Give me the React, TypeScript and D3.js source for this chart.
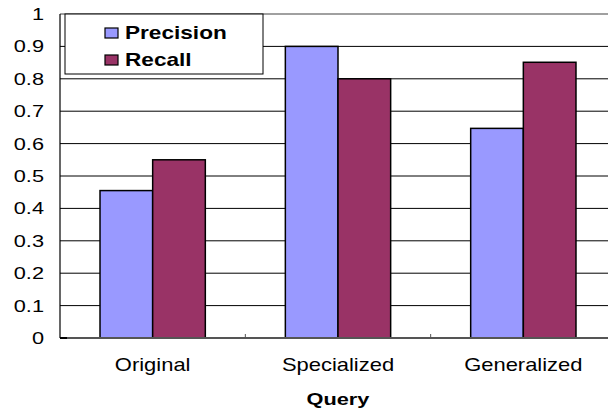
import { scaleBand, scaleLinear, range } from "d3";

const categories = ["Original", "Specialized", "Generalized"];
const series = ["Precision", "Recall"];
const precision = [0.455, 0.9, 0.647];
const recall = [0.55, 0.8, 0.851];
const yTicks = [0, 0.1, 0.2, 0.3, 0.4, 0.5, 0.6, 0.7, 0.8, 0.9, 1];
const xTitle = "Query";

const colors: Record<string, string> = { Precision: "#9999FF", Recall: "#993366" };
const values: Record<string, number[]> = { Precision: precision, Recall: recall };

const W = 608;
const H = 414;
const left = 60;
const right = 616;
const top = 14;
const bottom = 338;
const font = "Arial, 'Liberation Sans', sans-serif";

export default function App() {
  const x = scaleBand<string>().domain(categories).range([left, right]).padding(0);
  const inner = scaleBand<string>()
    .domain(series)
    .range([0, x.bandwidth()])
    .paddingInner(0)
    .paddingOuter(0.76);
  const y = scaleLinear().domain([0, 1]).range([bottom, top]);

  return (
    <svg
      width={W}
      height={H}
      viewBox={`0 0 ${W} ${H}`}
      style={{ position: "absolute", left: 0, top: 0, background: "#fff" }}
    >
      <rect x={0} y={0} width={W} height={H} fill="#fff" />
      {/* grid */}
      {yTicks.slice(1, -1).map((t) => (
        <line key={t} x1={left} x2={W} y1={y(t)} y2={y(t)} stroke="#000" strokeWidth={1} />
      ))}
      <line x1={left} x2={W} y1={y(1)} y2={y(1)} stroke="#808080" strokeWidth={1.5} />

      {/* bars */}
      {categories.map((c, i) => (
        <g key={c} transform={`translate(${x(c)},0)`}>
          {series.map((s) => (
            <rect
              key={s}
              x={inner(s)}
              y={y(values[s][i])}
              width={inner.bandwidth()}
              height={bottom - y(values[s][i])}
              fill={colors[s]}
              stroke="#000"
              strokeWidth={1.5}
            />
          ))}
        </g>
      ))}

      {/* axes */}
      <line x1={left} x2={left} y1={top} y2={bottom} stroke="#000" strokeWidth={1.2} />
      <line x1={left} x2={W} y1={bottom} y2={bottom} stroke="#555" strokeWidth={2} />
      <line x1={left} x2={left + 7} y1={bottom} y2={bottom} stroke="#000" strokeWidth={2} />
      {range(1, categories.length).map((k) => (
        <line
          key={k}
          x1={left + k * x.step()}
          x2={left + k * x.step()}
          y1={bottom}
          y2={bottom - 4}
          stroke="#555"
          strokeWidth={1}
        />
      ))}

      {/* y tick labels */}
      {yTicks.map((t) => (
        <text
          key={t}
          transform={`translate(44,${y(t) + 6}) scale(1.28,1)`}
          textAnchor="end"
          fontFamily={font}
          fontSize={17}
          fill="#000"
        >
          {String(t)}
        </text>
      ))}

      {/* x labels */}
      {categories.map((c) => (
        <text
          key={c}
          transform={`translate(${(x(c) ?? 0) + x.bandwidth() / 2},371) scale(1.22,1)`}
          textAnchor="middle"
          fontFamily={font}
          fontSize={18}
          fill="#000"
        >
          {c}
        </text>
      ))}
      <text
        transform={`translate(${(left + right) / 2},405) scale(1.28,1)`}
        textAnchor="middle"
        fontFamily={font}
        fontSize={17}
        fontWeight="bold"
        fill="#000"
      >
        {xTitle}
      </text>

      {/* legend */}
      <rect x={65} y={14} width={198} height={60} fill="#fff" stroke="#000" strokeWidth={1} />
      {series.map((s, i) => (
        <g key={s} transform={`translate(105,${28 + i * 27})`}>
          <rect x={0} y={0} width={13} height={10} fill={colors[s]} stroke="#000" strokeWidth={1.2} />
          <text
            transform={`translate(20,11) scale(1.19,1)`}
            fontFamily={font}
            fontSize={19}
            fontWeight="bold"
            fill="#000"
          >
            {s}
          </text>
        </g>
      ))}
    </svg>
  );
}
